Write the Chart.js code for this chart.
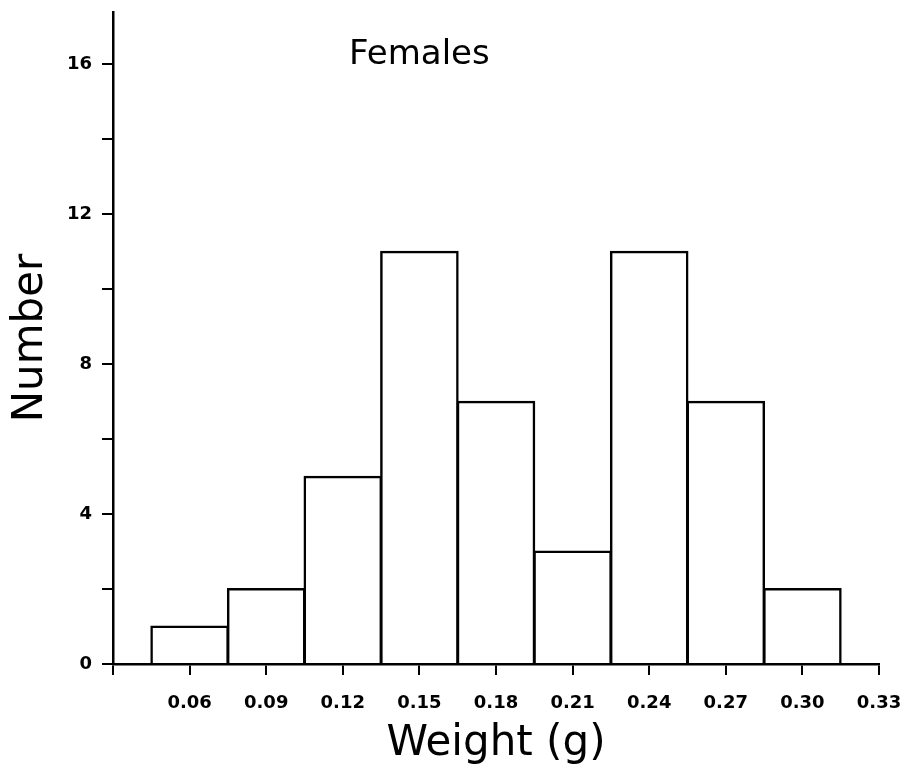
<!DOCTYPE html>
<html lang="en">
<head>
  <meta charset="UTF-8">
  <title>Females - weight histogram</title>
  <script src="https://cdn.jsdelivr.net/npm/chart.js"></script>
  <style>
    body { margin: 0; background: #fff; }
    #wrap { width: 914px; height: 777px; }
  </style>
</head>
<body>

  <div id="wrap">
    <canvas id="hist" width="914" height="777"></canvas>
  </div>

  <script>
    // bin centres (g) and counts per bin
    const weights = [0.06, 0.09, 0.12, 0.15, 0.18, 0.21, 0.24, 0.27, 0.30];
    const counts = [1, 2, 5, 11, 7, 3, 11, 7, 2];
    const titleText = 'Females';

    const tickFont = { family: 'DejaVu Sans', size: 18, weight: 'bold' };
    const labelFont = { family: 'DejaVu Sans', size: 42, weight: 'normal' };

    // plot title inside the frame, top centre
    const titleInside = {
      id: 'titleInside',
      afterDraw(chart) {
        const ctx = chart.ctx;
        const x = chart.scales.x.getPixelForValue(0.15);
        const y = chart.scales.y.getPixelForValue(16.25);
        ctx.save();
        ctx.font = 'normal 34px "DejaVu Sans"';
        ctx.fillStyle = '#000';
        ctx.textAlign = 'center';
        ctx.textBaseline = 'middle';
        ctx.fillText(titleText, x, y);
        ctx.restore();
      }
    };

    const ctx = document.getElementById('hist').getContext('2d');
    const chart = new Chart(ctx, {
      type: 'bar',
      data: {
        datasets: [{
          data: weights.map((w, i) => ({ x: w, y: counts[i] })),
          backgroundColor: '#fff',
          borderColor: '#000',
          borderWidth: 2.5,
          inflateAmount: 1,
          barPercentage: 1,
          categoryPercentage: 1
        }]
      },
      options: {
        responsive: false,
        animation: false,
        layout: { padding: { top: 12, right: 35, left: 0, bottom: 0 } },
        plugins: {
          legend: { display: false },
          tooltip: { enabled: false }
        },
        scales: {
          x: {
            type: 'linear',
            offset: false,
            min: 0.03,
            max: 0.33,
            afterFit(scale) {
              scale.height = 113;
              scale.paddingLeft = 0;
              scale.paddingRight = 0;
            },
            border: { display: true, color: '#000', width: 2.5 },
            grid: {
              offset: false,
              drawOnChartArea: false,
              drawTicks: true,
              tickLength: 11,
              color: '#000',
              lineWidth: 2
            },
            ticks: {
              stepSize: 0.03,
              autoSkip: false,
              maxRotation: 0,
              padding: 18,
              color: '#000',
              font: tickFont,
              callback: v => (v < 0.04 ? '' : v.toFixed(2))
            },
            title: {
              display: true,
              text: 'Weight (g)',
              color: '#000',
              font: labelFont,
              padding: { top: 0, bottom: 8 }
            }
          },
          y: {
            min: 0,
            max: 17.4,
            afterFit(scale) {
              scale.width = 113;
              scale.paddingTop = 0;
              scale.paddingBottom = 0;
            },
            border: { display: true, color: '#000', width: 2.5 },
            grid: {
              drawOnChartArea: false,
              drawTicks: true,
              tickLength: 11,
              color: '#000',
              lineWidth: 2
            },
            ticks: {
              stepSize: 2,
              includeBounds: false,
              padding: 10,
              color: '#000',
              font: tickFont,
              callback: v => (v % 4 === 0 ? String(v) : '')
            },
            title: {
              display: true,
              text: 'Number',
              color: '#000',
              font: labelFont,
              padding: { top: 6, bottom: 0 }
            }
          }
        }
      },
      plugins: [titleInside]
    });
  </script>
</body>
</html>
